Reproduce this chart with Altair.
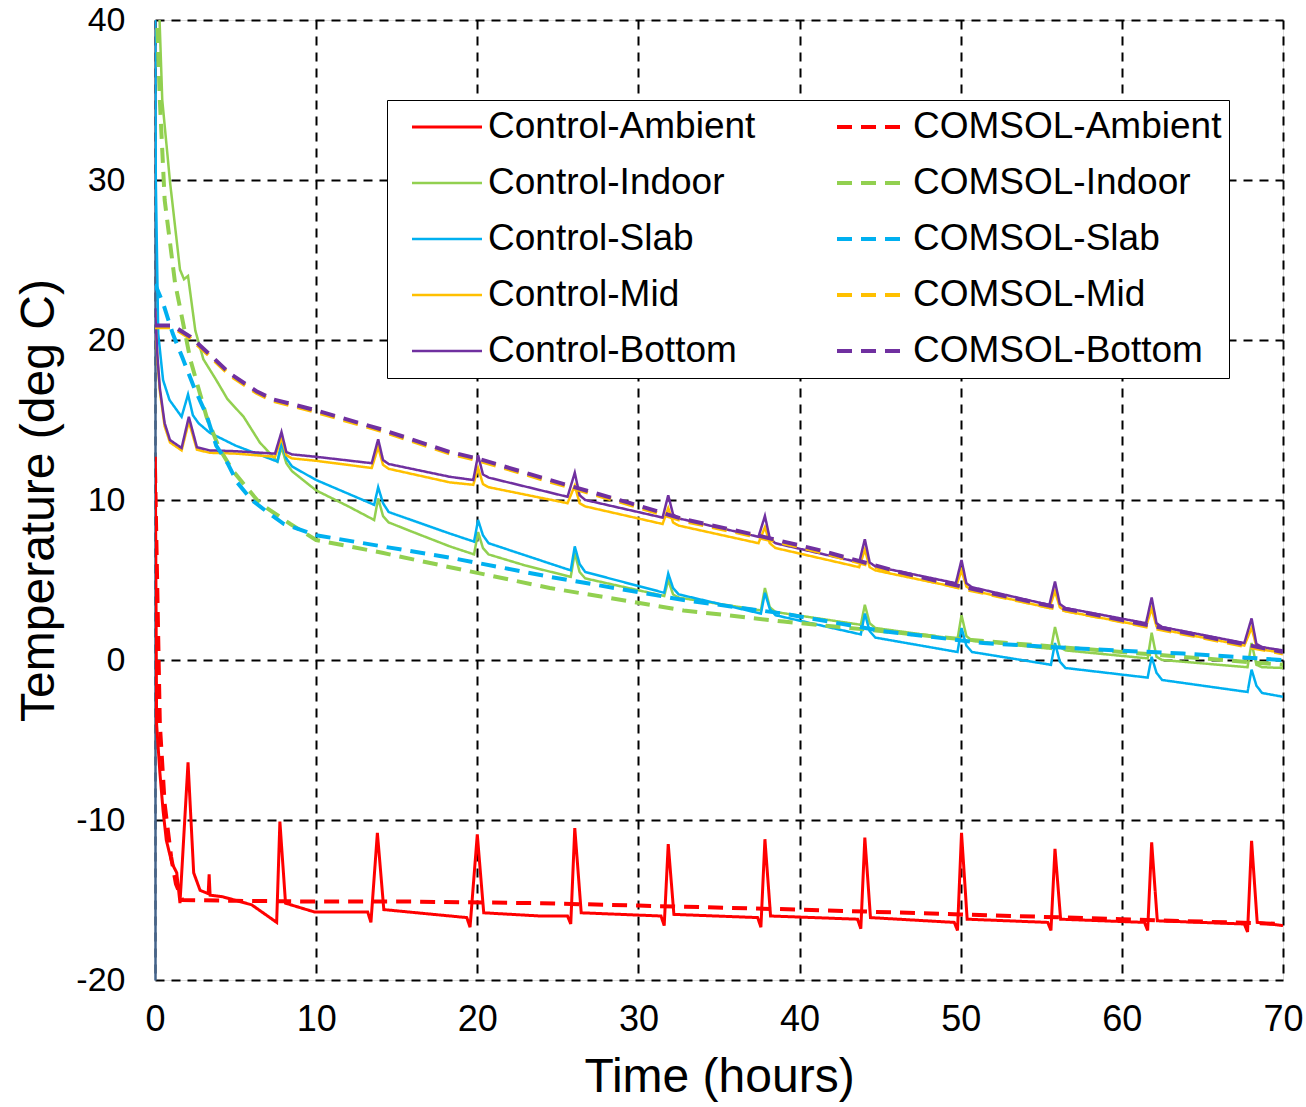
import altair as alt
import pandas as pd

# ---- data ----
control_ambient = [
    (0.02, 12.7), (0.1, -4.0), (0.3, -7.0), (0.5, -9.4), (0.7, -11.25), (1.05, -12.7),
    (1.35, -13.3), (1.55, -15.2), (2.05, -6.4), (2.4, -13.3), (2.8, -14.4), (3.3, -14.6),
    (3.36, -13.4), (3.42, -14.7), (4.2, -14.8), (6.0, -15.3), (7.55, -16.4), (7.75, -10.1),
    (8.1, -15.2), (9.9, -15.75), (13.2, -15.75), (13.4, -16.4), (13.8, -10.8), (14.2, -15.6),
    (19.35, -16.1), (19.55, -16.7), (20.0, -10.9), (20.4, -15.8), (23.9, -16.0), (25.6, -16.0),
    (25.8, -16.5), (26.05, -10.5), (26.45, -15.8), (31.4, -16.0), (31.6, -16.6), (31.85, -11.5),
    (32.2, -15.9), (37.4, -16.1), (37.6, -16.7), (37.85, -11.2), (38.2, -16.0), (43.6, -16.2),
    (43.8, -16.8), (44.05, -11.1), (44.4, -16.1), (49.6, -16.4), (49.8, -16.9), (50.05, -10.8),
    (50.4, -16.2), (55.4, -16.4), (55.6, -16.9), (55.85, -11.8), (56.2, -16.2), (61.4, -16.4),
    (61.6, -16.9), (61.85, -11.4), (62.2, -16.3), (67.6, -16.5), (67.8, -17.0), (68.05, -11.3),
    (68.4, -16.4), (70.0, -16.6),
]
control_indoor = [
    (0.25, 41.0), (0.45, 35.0), (0.93, 29.9), (1.55, 24.4), (1.8, 23.8), (2.05, 24.0),
    (2.5, 20.6), (3.0, 18.8), (3.8, 17.5), (4.5, 16.3), (5.5, 15.2), (6.5, 13.6), (7.6, 12.4),
    (7.85, 13.3), (8.15, 12.3), (8.5, 11.8), (10.0, 10.6), (12.0, 9.6), (13.6, 8.75),
    (13.85, 10.1), (14.15, 9.0), (14.5, 8.6), (16.0, 8.0), (18.3, 7.1), (19.8, 6.6),
    (20.05, 8.0), (20.35, 7.0), (20.7, 6.6), (23.0, 5.9), (25.8, 5.2), (26.05, 6.7),
    (26.35, 5.5), (26.7, 5.1), (31.6, 4.0), (31.85, 5.0), (32.15, 4.1), (32.5, 3.9),
    (37.6, 3.1), (37.85, 4.5), (38.15, 3.3), (38.5, 3.0), (43.8, 2.2), (44.05, 3.45),
    (44.35, 2.3), (44.7, 2.0), (49.8, 1.3), (50.05, 2.8), (50.35, 1.5), (50.7, 1.2),
    (55.6, 0.7), (55.85, 2.06), (56.15, 0.8), (56.5, 0.6), (61.6, 0.1), (61.85, 1.7),
    (62.15, 0.2), (62.5, 0.0), (67.8, -0.45), (68.05, 1.06), (68.35, -0.3), (68.7, -0.45),
    (70.0, -0.5),
]
control_slab = [
    (0.0, 40.0), (0.05, 30.0), (0.2, 20.4), (0.5, 17.5), (0.9, 16.25), (1.65, 15.2),
    (2.05, 16.6), (2.35, 15.3), (2.7, 14.8), (3.4, 14.2), (5.0, 13.4), (7.6, 12.4),
    (7.85, 13.6), (8.15, 12.6), (8.5, 12.1), (10.0, 11.25), (13.6, 9.7), (13.85, 10.8),
    (14.15, 9.8), (14.5, 9.25), (18.3, 7.9), (19.8, 7.4), (20.05, 8.75), (20.35, 7.8),
    (20.7, 7.3), (25.8, 5.6), (26.05, 7.1), (26.35, 6.0), (26.7, 5.5), (31.6, 4.2),
    (31.85, 5.4), (32.15, 4.5), (32.5, 4.1), (37.6, 2.9), (37.85, 4.2), (38.15, 3.2),
    (38.5, 2.8), (43.8, 1.6), (44.05, 2.9), (44.35, 1.8), (44.7, 1.4), (49.8, 0.5),
    (50.05, 2.0), (50.35, 0.9), (50.7, 0.5), (55.6, -0.3), (55.85, 1.06), (56.15, -0.1),
    (56.5, -0.5), (61.6, -1.1), (61.85, 0.2), (62.15, -0.8), (62.5, -1.25), (67.8, -2.0),
    (68.05, -0.6), (68.35, -1.6), (68.7, -2.06), (70.0, -2.3),
]
control_mid = [
    (0.0, 21.8), (0.15, 18.8), (0.3, 16.8), (0.6, 14.6), (0.93, 13.6), (1.65, 13.1),
    (2.1, 14.9), (2.6, 13.15), (3.4, 12.95), (5.0, 12.9), (7.45, 12.7), (7.85, 13.9),
    (8.15, 12.8), (8.5, 12.6), (10.0, 12.45), (13.45, 12.0), (13.85, 13.3), (14.15, 12.2),
    (14.5, 11.95), (18.3, 11.1), (19.75, 10.95), (20.05, 12.0), (20.35, 11.0), (20.7, 10.8),
    (25.6, 9.8), (26.05, 10.9), (26.35, 9.8), (26.7, 9.6), (31.5, 8.5), (31.85, 9.5),
    (32.15, 8.6), (32.5, 8.4), (37.45, 7.3), (37.85, 8.3), (38.15, 7.3), (38.5, 7.0),
    (43.7, 5.8), (44.05, 6.9), (44.35, 5.8), (44.7, 5.6), (49.7, 4.55), (50.05, 5.6),
    (50.35, 4.6), (50.7, 4.35), (55.5, 3.25), (55.85, 4.3), (56.15, 3.3), (56.5, 3.05),
    (61.5, 2.1), (61.85, 3.2), (62.15, 2.1), (62.5, 1.9), (67.6, 0.9), (68.05, 2.0),
    (68.35, 0.85), (68.7, 0.65), (70.0, 0.45),
]
control_bottom = [
    (0.0, 22.0), (0.15, 19.0), (0.3, 17.0), (0.6, 14.8), (0.93, 13.75), (1.65, 13.25),
    (2.1, 15.2), (2.6, 13.3), (3.4, 13.1), (5.0, 13.05), (7.45, 12.9), (7.85, 14.25),
    (8.15, 13.0), (8.5, 12.85), (10.0, 12.7), (13.45, 12.3), (13.85, 13.8), (14.15, 12.5),
    (14.5, 12.25), (18.3, 11.45), (19.75, 11.25), (20.05, 12.8), (20.35, 11.6), (20.7, 11.4),
    (25.6, 10.2), (26.05, 11.7), (26.35, 10.3), (26.7, 10.0), (31.5, 8.9), (31.85, 10.3),
    (32.15, 9.1), (32.5, 8.85), (37.45, 7.7), (37.85, 9.0), (38.15, 7.6), (38.5, 7.3),
    (43.7, 6.1), (44.05, 7.55), (44.35, 6.1), (44.7, 5.85), (49.7, 4.8), (50.05, 6.25),
    (50.35, 4.8), (50.7, 4.55), (55.5, 3.44), (55.85, 4.9), (56.15, 3.5), (56.5, 3.25),
    (61.5, 2.3), (61.85, 3.9), (62.15, 2.3), (62.5, 2.06), (67.6, 1.06), (68.05, 2.6),
    (68.35, 1.0), (68.7, 0.8), (70.0, 0.6),
]
comsol_ambient = [
    (0.0, 12.0), (0.3, -4.0), (0.6, -9.0), (1.0, -12.3), (1.3, -14.0), (1.7, -15.0),
    (5.0, -15.05), (10.0, -15.1), (16.0, -15.1), (24.0, -15.2), (30.0, -15.35),
    (40.0, -15.6), (50.0, -15.9), (60.0, -16.2), (70.0, -16.5),
]
comsol_indoor = [
    (0.1, 41.0), (0.3, 35.0), (0.6, 28.75), (1.24, 23.6), (2.2, 18.75), (3.2, 15.2),
    (4.0, 13.2), (4.85, 11.8), (6.5, 9.8), (8.4, 8.5), (10.0, 7.5), (14.1, 6.7),
    (18.3, 5.8), (24.5, 4.5), (32.8, 3.1), (39.0, 2.4), (45.2, 1.8), (50.0, 1.3),
    (55.0, 0.9), (60.0, 0.5), (65.0, 0.1), (70.0, -0.3),
]
comsol_slab = [
    (0.0, 23.5), (0.5, 22.3), (1.1, 20.4), (1.7, 18.9), (2.4, 17.1), (3.2, 15.3),
    (3.8, 13.4), (4.5, 12.3), (5.1, 11.1), (6.0, 10.0), (6.9, 9.3), (8.0, 8.5),
    (10.0, 7.8), (14.1, 7.1), (18.3, 6.4), (24.5, 5.2), (32.8, 3.75), (39.0, 2.9),
    (45.2, 1.8), (51.4, 1.06), (57.6, 0.7), (63.8, 0.4), (70.0, 0.0),
]
comsol_mid = [
    (0.0, 20.8), (1.1, 20.8), (2.2, 20.1), (3.5, 18.9), (4.65, 17.8), (6.3, 16.7),
    (7.3, 16.2), (10.0, 15.5), (14.1, 14.3), (18.3, 12.9), (20.0, 12.5), (24.5, 11.15),
    (29.5, 9.7), (32.8, 8.7), (36.9, 7.8), (41.1, 6.8), (46.2, 5.4), (50.0, 4.5),
    (55.0, 3.4), (60.0, 2.4), (65.0, 1.4), (70.0, 0.4),
]
comsol_bottom = [
    (0.0, 20.9), (1.1, 20.9), (2.2, 20.2), (3.5, 19.0), (4.65, 17.9), (6.3, 16.8),
    (7.3, 16.3), (10.0, 15.6), (14.1, 14.4), (18.3, 13.0), (20.0, 12.6), (24.5, 11.25),
    (29.5, 9.8), (32.8, 8.8), (36.9, 7.9), (41.1, 6.9), (46.2, 5.5), (50.0, 4.6),
    (55.0, 3.5), (60.0, 2.5), (65.0, 1.5), (70.0, 0.5),
]

# legend fills column by column: all Control-* then all COMSOL-*
series = [
    ("Control-Ambient", control_ambient, "#FF0000", False),
    ("Control-Indoor", control_indoor, "#92D050", False),
    ("Control-Slab", control_slab, "#00B0F0", False),
    ("Control-Mid", control_mid, "#FFC000", False),
    ("Control-Bottom", control_bottom, "#7030A0", False),
    ("COMSOL-Ambient", comsol_ambient, "#FF0000", True),
    ("COMSOL-Indoor", comsol_indoor, "#92D050", True),
    ("COMSOL-Slab", comsol_slab, "#00B0F0", True),
    ("COMSOL-Mid", comsol_mid, "#FFC000", True),
    ("COMSOL-Bottom", comsol_bottom, "#7030A0", True),
]

rows = []
for name, pts, _, _ in series:
    for i, (t, v) in enumerate(pts):
        rows.append({"series": name, "t": t, "v": v, "i": i})
df = pd.DataFrame(rows)

names = [s[0] for s in series]
colors = [s[2] for s in series]
dashes = [[15, 9] if s[3] else [1, 0] for s in series]
widths = [4.0 if s[3] else (3.0 if s[0] == "Control-Ambient" else 2.5) for s in series]

FONT = "Liberation Sans"


def make_legend():
    return alt.Legend(title=None, orient="none", legendX=232, legendY=80,
                      columns=2, symbolType="stroke", symbolSize=4900,
                      symbolStrokeWidth=3.5, symbolOffset=16, labelFontSize=37,
                      labelOffset=4, padding=7, rowPadding=16, clipHeight=40,
                      columnPadding=63, strokeColor="black", fillColor="white",
                      labelLimit=420)


chart = alt.Chart(df).mark_line(clip=True).encode(
    x=alt.X("t:Q", scale=alt.Scale(domain=[0, 70], nice=False, zero=False),
            axis=alt.Axis(title="Time (hours)", values=list(range(0, 71, 10)),
                          labelFontSize=36, titleFontSize=48, labelPadding=22,
                          titlePadding=16, tickSize=0, domain=False,
                          grid=True, gridColor="black", gridDash=[9, 7], gridWidth=2,
                          gridOpacity=1, labelFlush=False)),
    y=alt.Y("v:Q", scale=alt.Scale(domain=[-20, 40], nice=False, zero=False),
            axis=alt.Axis(title="Temperature (deg C)", values=list(range(-20, 41, 10)),
                          labelExpr="datum.value + ''",
                          labelFontSize=34, titleFontSize=48, labelPadding=30,
                          titlePadding=12, tickSize=0, domain=True,
                          domainColor="#44648C", domainWidth=2.5,
                          grid=True, gridColor="black", gridDash=[9, 7], gridWidth=2,
                          gridOpacity=1, labelFlush=False)),
    color=alt.Color("series:N", scale=alt.Scale(domain=names, range=colors),
                    sort=names, legend=make_legend()),
    strokeDash=alt.StrokeDash("series:N", scale=alt.Scale(domain=names, range=dashes),
                              sort=names, legend=make_legend()),
    strokeWidth=alt.StrokeWidth("series:N",
                                scale=alt.Scale(type="ordinal", domain=names, range=widths),
                                legend=None),
    order=alt.Order("i:Q"),
).properties(
    width=1128, height=960,
    padding={"left": 155, "top": 20, "right": 23, "bottom": 127},
    autosize="none",
).configure_view(
    stroke="black", strokeWidth=2,
).configure(
    font=FONT, background="white",
).configure_axis(
    labelColor="black", titleColor="black", labelFont=FONT, titleFont=FONT,
    titleFontWeight="normal",
).configure_legend(
    labelFont=FONT, labelColor="black",
)

chart.save("out.html", embed_options={"renderer": "svg", "actions": False})
